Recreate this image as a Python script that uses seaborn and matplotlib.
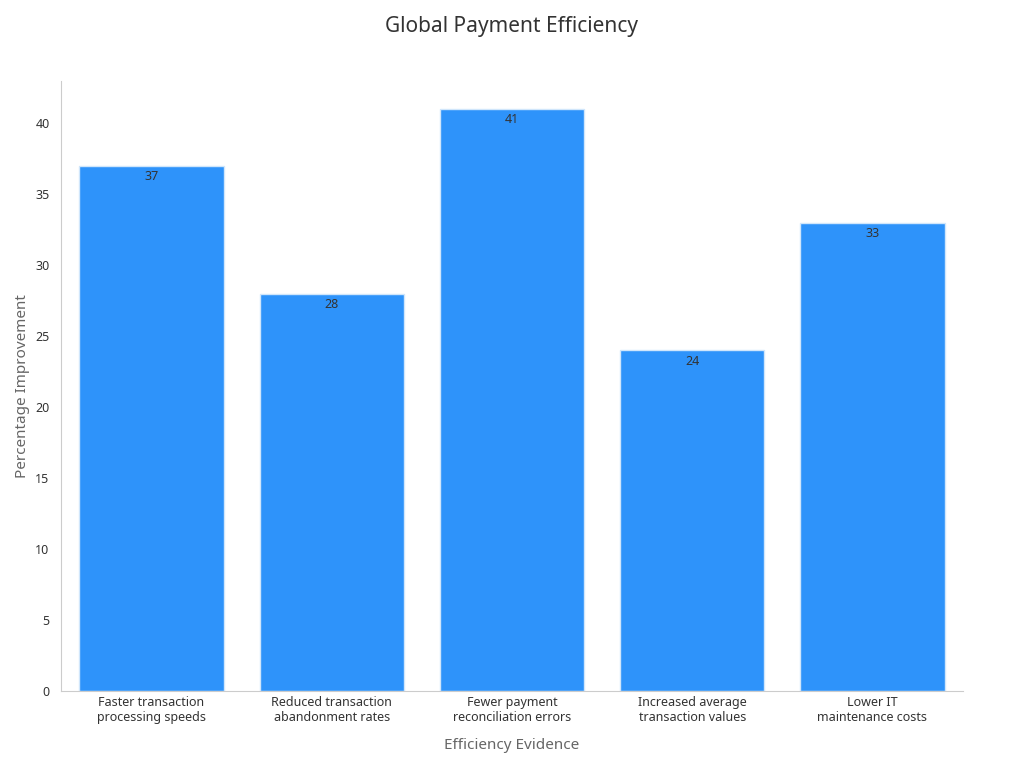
import matplotlib
matplotlib.use("Agg")
import matplotlib.pyplot as plt
import seaborn as sns
import pandas as pd

categories = [
    "Faster transaction\nprocessing speeds",
    "Reduced transaction\nabandonment rates",
    "Fewer payment\nreconciliation errors",
    "Increased average\ntransaction values",
    "Lower IT\nmaintenance costs",
]
values = [37, 28, 41, 24, 33]

df = pd.DataFrame({"evidence": categories, "pct": values})

sns.set_style("white")
plt.rcParams["font.family"] = ["Noto Sans", "DejaVu Sans"]

fig, ax = plt.subplots(figsize=(10.24, 7.68), dpi=100)
sns.barplot(data=df, x="evidence", y="pct", color="#2e93fa", saturation=1,
            width=0.8, edgecolor="#d0e6fb", linewidth=1, ax=ax)

for i, v in enumerate(values):
    ax.text(i, v - 0.3, str(v), ha="center", va="top", fontsize=9, color="#333333")

ax.set_title("Global Payment Efficiency", fontsize=15, color="#333333", pad=35)
ax.set_xlabel("Efficiency Evidence", fontsize=11, color="#666666", labelpad=10)
ax.set_ylabel("Percentage Improvement", fontsize=11, color="#666666")
ax.set_ylim(0, 43)
ax.set_yticks(range(0, 41, 5))
ax.tick_params(axis="both", labelsize=9, colors="#333333")
ax.tick_params(axis="y", length=5, color="#999999")
ax.tick_params(axis="x", length=0)
sns.despine(ax=ax)
for s in ["left", "bottom"]:
    ax.spines[s].set_color("#cccccc")

plt.subplots_adjust(left=0.06, right=0.94, top=0.895, bottom=0.1)
fig.savefig("out.png", dpi=100)
